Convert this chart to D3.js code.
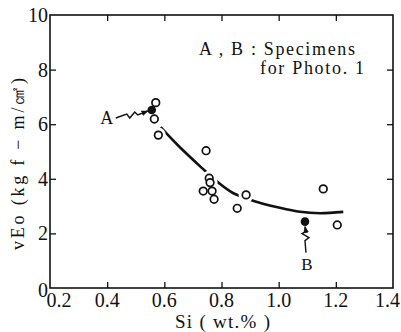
<!DOCTYPE html>
<html>
<head>
<meta charset="utf-8">
<script src="https://cdn.jsdelivr.net/npm/d3@7"></script>
<style>
  body { margin: 0; background: #fff; }
  svg { display: block; }
  text { font-family: "Liberation Serif", "DejaVu Serif", serif; fill: #111; }
</style>
</head>
<body>
<div id="chart"></div>
<script>
// open circles
const siOpen = [0.570, 0.565, 0.579, 0.746, 0.757, 0.760, 0.736, 0.767, 0.774, 0.886, 0.855, 1.156, 1.205]
const veOpen = [6.79, 6.19, 5.60, 5.03, 4.02, 3.86, 3.55, 3.55, 3.25, 3.41, 2.92, 3.63, 2.31]
// filled circles (specimens A and B)
const siFilled = [0.556, 1.092]
const veFilled = [6.52, 2.43]
const filledNames = ['A', 'B']
// fitted curve
const curveSi = [0.587, 0.65, 0.731, 0.789, 0.840, 0.910, 1.00, 1.075, 1.145, 1.226]
const curveVe = [5.89, 5.20, 4.40, 3.86, 3.48, 3.20, 2.95, 2.79, 2.74, 2.79]
const xTicks = [0.2, 0.4, 0.6, 0.8, 1.0, 1.2, 1.4]
const yTicks = [0, 2, 4, 6, 8, 10]

const width = 401
const height = 332
const mLeft = 50, mRight = 393, mTop = 15, mBottom = 288

const svg = d3.select('#chart')
  .append('svg')
  .attr('width', width)
  .attr('height', height)

const x = d3.scaleLinear().domain([0.2, 1.4]).range([mLeft, mRight])
const y = d3.scaleLinear().domain([0, 10]).range([mBottom, mTop])

// frame
svg.append('rect')
  .attr('x', mLeft).attr('y', mTop)
  .attr('width', mRight - mLeft).attr('height', mBottom - mTop)
  .attr('fill', 'none').attr('stroke', '#111').attr('stroke-width', 1.6)

// inward ticks on all four sides
const tickLen = 6
const axisStyle = g => {
  g.select('.domain').remove()
  g.selectAll('line').attr('stroke', '#111').attr('stroke-width', 1.3)
  g.selectAll('text').remove()
}
svg.append('g').attr('transform', `translate(0,${mBottom})`)
  .call(d3.axisTop(x).tickValues(xTicks.slice(1, -1)).tickSize(tickLen)).call(axisStyle)
svg.append('g').attr('transform', `translate(0,${mTop})`)
  .call(d3.axisBottom(x).tickValues(xTicks.slice(1, -1)).tickSize(tickLen)).call(axisStyle)
svg.append('g').attr('transform', `translate(${mLeft},0)`)
  .call(d3.axisRight(y).tickValues(yTicks.slice(1, -1)).tickSize(tickLen)).call(axisStyle)
svg.append('g').attr('transform', `translate(${mRight},0)`)
  .call(d3.axisLeft(y).tickValues(yTicks.slice(1, -1)).tickSize(tickLen)).call(axisStyle)

// tick labels
const last = xTicks.length - 1
svg.selectAll('.xlab')
  .data(xTicks)
  .enter()
  .append('text')
  .attr('x', (d, i) => i === 0 ? x(d) + 9 : i === last ? 400 : x(d))
  .attr('y', 307)
  .attr('text-anchor', (d, i) => i === last ? 'end' : 'middle')
  .style('font-size', '20px')
  .text(d => d.toFixed(1))

svg.selectAll('.ylab')
  .data(yTicks)
  .enter()
  .append('text')
  .attr('x', 48)
  .attr('y', d => y(d) + 7 + (d === 0 ? 2 : 0))
  .attr('text-anchor', 'end')
  .style('font-size', '20px')
  .text(d => d)

// axis titles
svg.append('text')
  .attr('x', 175).attr('y', 328)
  .style('font-size', '19px')
  .attr('textLength', 95)
  .text('Si ( wt.% )')

svg.append('text')
  .attr('transform', 'translate(24,250) rotate(-90)')
  .style('font-size', '18px')
  .attr('textLength', 172)
  .text('vEo (kg f \u2212 m/\u33a0)')

// curve
const line = d3.line().curve(d3.curveCatmullRom)
const curvePts = curveSi.map((d, i) => [x(d), y(curveVe[i])])
svg.append('path')
  .attr('d', line(curvePts))
  .attr('fill', 'none')
  .attr('stroke', '#111')
  .attr('stroke-width', 2.6)

// white halos break the curve near the points
svg.selectAll('.halo')
  .data(siOpen)
  .enter()
  .append('circle')
  .attr('cx', d => x(d))
  .attr('cy', (d, i) => y(veOpen[i]))
  .attr('r', 7.5)
  .attr('fill', '#fff')

svg.selectAll('.open')
  .data(siOpen)
  .enter()
  .append('circle')
  .attr('cx', d => x(d))
  .attr('cy', (d, i) => y(veOpen[i]))
  .attr('r', 3.8)
  .attr('fill', '#fff')
  .attr('stroke', '#111')
  .attr('stroke-width', 1.7)

svg.selectAll('.filled')
  .data(siFilled)
  .enter()
  .append('circle')
  .attr('cx', d => x(d))
  .attr('cy', (d, i) => y(veFilled[i]))
  .attr('r', 4.3)
  .attr('fill', '#111')

// arrow marker
svg.append('defs').append('marker')
  .attr('id', 'head')
  .attr('viewBox', '0 0 10 10')
  .attr('refX', 9).attr('refY', 5)
  .attr('markerWidth', 7).attr('markerHeight', 7)
  .attr('orient', 'auto-start-reverse')
  .attr('markerUnits', 'userSpaceOnUse')
  .append('path')
  .attr('d', 'M0,1 L10,5 L0,9 Z')
  .attr('fill', '#111')

// A label with zigzag arrow
const ax = x(siFilled[0]), ay = y(veFilled[0])
svg.append('text')
  .attr('x', ax - 45).attr('y', ay + 14)
  .attr('text-anchor', 'middle')
  .style('font-size', '18px')
  .text(filledNames[0])
svg.append('path')
  .attr('d', `M${ax - 36},${ay + 8} L${ax - 25},${ay + 4} L${ax - 22},${ay + 8} L${ax - 17},${ay + 2} L${ax - 14},${ay + 5} L${ax - 4},${ay + 1}`)
  .attr('fill', 'none').attr('stroke', '#111').attr('stroke-width', 1.4)
  .attr('marker-end', 'url(#head)')

// B label with zigzag arrow
const bx = x(siFilled[1]), by = y(veFilled[1])
svg.append('text')
  .attr('x', bx + 2).attr('y', by + 48)
  .attr('text-anchor', 'middle')
  .style('font-size', '17px')
  .text(filledNames[1])
svg.append('path')
  .attr('d', `M${bx + 1},${by + 31} L${bx},${by + 19} L${bx + 4},${by + 16} L${bx - 3},${by + 12} L${bx + 1},${by + 10} L${bx},${by + 5}`)
  .attr('fill', 'none').attr('stroke', '#111').attr('stroke-width', 1.4)
  .attr('marker-end', 'url(#head)')

// note
svg.append('text')
  .attr('x', 199).attr('y', 55)
  .style('font-size', '18px')
  .attr('textLength', 156)
  .text('A , B : Specimens')
svg.append('text')
  .attr('x', 260).attr('y', 74)
  .style('font-size', '18px')
  .attr('textLength', 104)
  .text('for  Photo. 1')
</script>
</body>
</html>
